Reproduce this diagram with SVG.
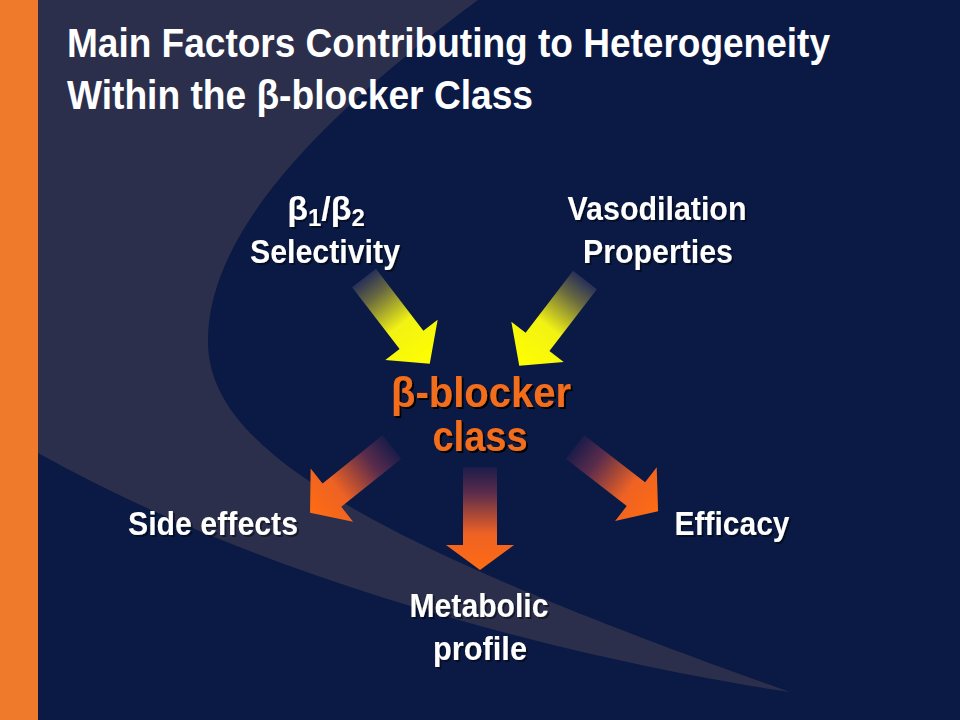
<svg xmlns="http://www.w3.org/2000/svg" width="960" height="720" viewBox="0 0 960 720">
  <defs>
    <style>
      .title { font-family: "Liberation Sans", Arial, sans-serif; font-weight: bold; font-size: 41px; fill: #ffffff; }
      .lbl { font-family: "Liberation Sans", Arial, sans-serif; font-weight: bold; font-size: 34px; fill: #ffffff; text-anchor: middle; filter: url(#shW); }
      .ctr { font-family: "Liberation Sans", Arial, sans-serif; font-weight: bold; font-size: 42px; fill: #f26d1c; text-anchor: middle; filter: url(#shO); }
    </style>
    <filter id="shW" x="-10%" y="-20%" width="120%" height="150%">
      <feOffset in="SourceAlpha" dx="2" dy="2" result="o"/>
      <feComponentTransfer in="o" result="s"><feFuncA type="linear" slope="0.45"/></feComponentTransfer>
      <feMerge><feMergeNode in="s"/><feMergeNode in="SourceGraphic"/></feMerge>
    </filter>
    <filter id="shO" x="-10%" y="-20%" width="120%" height="150%">
      <feOffset in="SourceAlpha" dx="2" dy="2" result="o"/>
      <feMerge><feMergeNode in="o"/><feMergeNode in="SourceGraphic"/></feMerge>
    </filter>
    <linearGradient id="gY" x1="0" y1="0" x2="1" y2="0">
      <stop offset="0" stop-color="#283058"/>
      <stop offset="0.2" stop-color="#6a6a40"/>
      <stop offset="0.55" stop-color="#f2f214"/>
      <stop offset="1" stop-color="#ffff00"/>
    </linearGradient>
    <linearGradient id="gO" x1="0" y1="0" x2="1" y2="0">
      <stop offset="0" stop-color="#1c1c4a"/>
      <stop offset="0.25" stop-color="#5a2c4c"/>
      <stop offset="0.65" stop-color="#ee6224"/>
      <stop offset="1" stop-color="#ff6c12"/>
    </linearGradient>
    <path id="arrowY" d="M0,-15 L78,-15 L78,-33 L108,0 L78,33 L78,15 L0,15 Z"/>
    <path id="arrowO" d="M0,-15 L77,-15 L77,-34 L105,0 L77,34 L77,15 L0,15 Z"/>
  </defs>

  <g id="background">
    <rect x="0" y="0" width="960" height="720" fill="#0b1a44"/>
    <path d="M38,0 L478,0 C330,110 205,230 208,345 C212,440 330,530 790,692 C640,670 300,600 38,453 Z" fill="#2b2f4c"/>
    <rect x="0" y="0" width="38" height="720" fill="#f07a2c"/>
  </g>

  <g id="title">
    <text class="title" x="67" y="57" textLength="763" lengthAdjust="spacingAndGlyphs">Main Factors Contributing to Heterogeneity</text>
    <text class="title" x="67" y="109" textLength="466" lengthAdjust="spacingAndGlyphs">Within the β-blocker Class</text>
  </g>

  <g id="connectors">
    <use href="#arrowY" fill="url(#gY)" transform="translate(364,278) rotate(52.5)"/>
    <use href="#arrowY" fill="url(#gY)" transform="translate(585,280) rotate(127.5)"/>
    <use href="#arrowO" fill="url(#gO)" transform="translate(392,447) rotate(141.3)"/>
    <use href="#arrowO" fill="url(#gO)" transform="translate(575,447) rotate(37.7)"/>
    <path d="M0,-17 L78,-17 L78,-34 L103,0 L78,34 L78,17 L0,17 Z" fill="url(#gO)" transform="translate(480,467) rotate(90)"/>
  </g>

  <g id="node-selectivity">
    <text class="lbl" x="326" y="220">β<tspan font-size="24" dy="6">1</tspan><tspan dy="-6">/β</tspan><tspan font-size="24" dy="6">2</tspan></text>
    <text class="lbl" x="325" y="263" textLength="150" lengthAdjust="spacingAndGlyphs">Selectivity</text>
  </g>

  <g id="node-vasodilation">
    <text class="lbl" x="657" y="220" textLength="179" lengthAdjust="spacingAndGlyphs">Vasodilation</text>
    <text class="lbl" x="658" y="263" textLength="150" lengthAdjust="spacingAndGlyphs">Properties</text>
  </g>

  <g id="node-center">
    <text class="ctr" x="481" y="407" textLength="180" lengthAdjust="spacingAndGlyphs">β-blocker</text>
    <text class="ctr" x="480" y="451" textLength="95" lengthAdjust="spacingAndGlyphs">class</text>
  </g>

  <g id="node-side-effects">
    <text class="lbl" x="213" y="535" textLength="170" lengthAdjust="spacingAndGlyphs">Side effects</text>
  </g>

  <g id="node-efficacy">
    <text class="lbl" x="732" y="535" textLength="115" lengthAdjust="spacingAndGlyphs">Efficacy</text>
  </g>

  <g id="node-metabolic">
    <text class="lbl" x="479" y="617" textLength="139" lengthAdjust="spacingAndGlyphs">Metabolic</text>
    <text class="lbl" x="480" y="660" textLength="94" lengthAdjust="spacingAndGlyphs">profile</text>
  </g>
</svg>
